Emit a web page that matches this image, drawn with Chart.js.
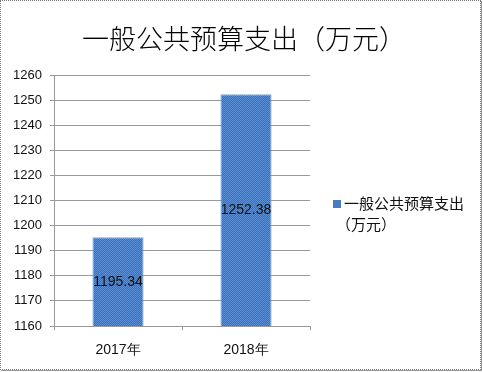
<!DOCTYPE html>
<html>
<head>
<meta charset="utf-8">
<script src="https://cdn.jsdelivr.net/npm/chart.js@4/dist/chart.umd.min.js"></script>
<style>
  html, body { margin: 0; padding: 0; background: #fff; }
  #wrap { position: relative; width: 483px; height: 372px; overflow: hidden; }
  #frame { position: absolute; left: 0; top: 0; width: 479px; height: 368px;
           border: 1px dotted #777; box-shadow: 1px 1px 0 #999; pointer-events: none; }
  #title { position: absolute; left: 6px; top: 18px; width: 476px; text-align: center;
           font-family: "Noto Sans CJK SC", sans-serif; font-size: 27px; font-weight: 300; color: #000; }
  #legend { position: absolute; left: 333px; top: 192px; width: 150px;
            font-family: "Noto Sans CJK SC", sans-serif; font-size: 15px; line-height: 21px; color: #111; }
  #legend .box { display: inline-block; width: 8px; height: 8px; background: #4a7cc4;
                 margin-right: 3px; vertical-align: 1px; }
  #legend .l2 { padding-left: 3px; }
</style>
</head>
<body>
<div id="wrap">
  <canvas id="portfolioChart" width="483" height="372"></canvas>
  <div id="title"></div>
  <div id="legend"></div>
  <div id="frame"></div>
</div>
<script>
// 데이터
const chartTitle = '一般公共预算支出（万元）';
const seriesName = '一般公共预算支出（万元）';
const categories = ['2017年', '2018年'];
const values = [1195.34, 1252.38];
const yMin = 1160;
const yMax = 1260;
const yStep = 10;

document.getElementById('title').textContent = chartTitle;
document.getElementById('legend').innerHTML =
    '<div><span class="box"></span>一般公共预算支出</div><div class="l2">（万元）</div>';

// 막대 패턴 (파란 점무늬)
function makePattern() {
    const c = document.createElement('canvas');
    c.width = 4; c.height = 4;
    const g = c.getContext('2d');
    g.fillStyle = '#3e6fb6';
    g.fillRect(0, 0, 4, 4);
    g.fillStyle = '#5a8fd6';
    g.fillRect(0, 0, 1, 1); g.fillRect(2, 0, 1, 1);
    g.fillRect(1, 1, 1, 1); g.fillRect(3, 1, 1, 1);
    g.fillRect(0, 2, 1, 1); g.fillRect(2, 2, 1, 1);
    g.fillRect(1, 3, 1, 1); g.fillRect(3, 3, 1, 1);
    return g.createPattern(c, 'repeat');
}

// 막대 가운데 값 표시
const valueLabels = {
    id: 'valueLabels',
    afterDraw(chart) {
        const c = chart.ctx;
        const meta = chart.getDatasetMeta(0);
        const bottom = chart.chartArea.bottom;
        c.save();
        c.font = '14px "Liberation Sans", Arial, sans-serif';
        c.fillStyle = '#111';
        c.textAlign = 'center';
        c.textBaseline = 'middle';
        meta.data.forEach((bar, i) => {
            const p = bar.getProps(['x', 'y'], true);
            c.fillText(values[i].toFixed(2), p.x, (p.y + bottom) / 2);
        });
        c.restore();
    }
};

const ctx = document.getElementById('portfolioChart').getContext('2d');
window.portfolioChart = new Chart(ctx, {
    type: 'bar',
    data: {
        labels: categories,
        datasets: [{
            label: seriesName,
            data: values,
            backgroundColor: makePattern(),
            borderColor: '#7fa6dc',
            borderWidth: 1,
            barPercentage: 0.4,
            categoryPercentage: 1.0
        }]
    },
    options: {
        responsive: false,
        animation: false,
        layout: { padding: { left: 0, right: 173, top: 75, bottom: 0 } },
        plugins: {
            legend: { display: false },
            title: { display: false },
            tooltip: { enabled: false }
        },
        scales: {
            x: {
                afterFit: s => { s.height = 46; },
                grid: { display: true, drawOnChartArea: false, drawTicks: true, tickLength: 4, color: '#999' },
                border: { color: '#999' },
                ticks: { color: '#111', padding: 12, font: { family: '"Liberation Sans", Arial, sans-serif', size: 14 } }
            },
            y: {
                min: yMin,
                max: yMax,
                afterFit: s => { s.width = 54; },
                grid: { color: '#999', tickLength: 4 },
                border: { color: '#999' },
                ticks: { stepSize: yStep, color: '#111', padding: 8,
                         callback: v => String(v),
                         font: { family: '"Liberation Sans", Arial, sans-serif', size: 13 } }
            }
        }
    },
    plugins: [valueLabels]
});
</script>
</body>
</html>
